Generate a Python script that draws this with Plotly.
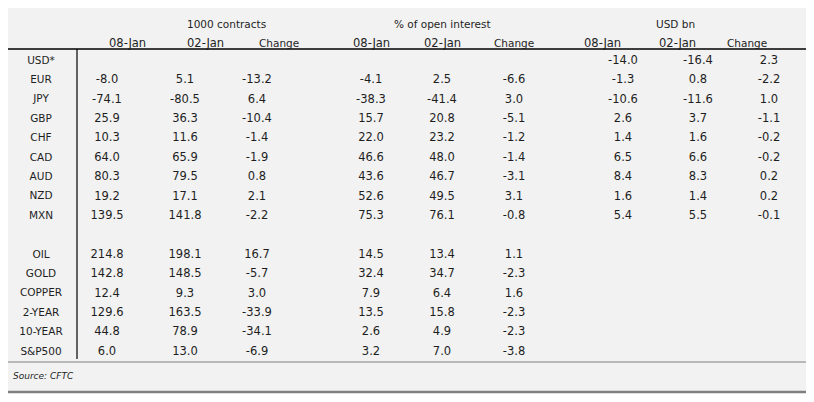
import plotly.graph_objects as go

# ---------------- data ----------------
rows = ["USD*", "EUR", "JPY", "GBP", "CHF", "CAD", "AUD", "NZD", "MXN", " ",
        "OIL", "GOLD", "COPPER", "2-YEAR", "10-YEAR", "S&P500"]

group_titles = ["1000 contracts", "% of open interest", "USD bn"]
sub_titles = ["08-Jan", "02-Jan", "Change"]

contracts_08jan = [None, -8.0, -74.1, 25.9, 10.3, 64.0, 80.3, 19.2, 139.5, None,
                   214.8, 142.8, 12.4, 129.6, 44.8, 6.0]
contracts_02jan = [None, 5.1, -80.5, 36.3, 11.6, 65.9, 79.5, 17.1, 141.8, None,
                   198.1, 148.5, 9.3, 163.5, 78.9, 13.0]
contracts_change = [None, -13.2, 6.4, -10.4, -1.4, -1.9, 0.8, 2.1, -2.2, None,
                    16.7, -5.7, 3.0, -33.9, -34.1, -6.9]

oi_08jan = [None, -4.1, -38.3, 15.7, 22.0, 46.6, 43.6, 52.6, 75.3, None,
            14.5, 32.4, 7.9, 13.5, 2.6, 3.2]
oi_02jan = [None, 2.5, -41.4, 20.8, 23.2, 48.0, 46.7, 49.5, 76.1, None,
            13.4, 34.7, 6.4, 15.8, 4.9, 7.0]
oi_change = [None, -6.6, 3.0, -5.1, -1.2, -1.4, -3.1, 3.1, -0.8, None,
             1.1, -2.3, 1.6, -2.3, -2.3, -3.8]

usd_08jan = [-14.0, -1.3, -10.6, 2.6, 1.4, 6.5, 8.4, 1.6, 5.4, None,
             None, None, None, None, None, None]
usd_02jan = [-16.4, 0.8, -11.6, 3.7, 1.6, 6.6, 8.3, 1.4, 5.5, None,
             None, None, None, None, None, None]
usd_change = [2.3, -2.2, 1.0, -1.1, -0.2, -0.2, 0.2, 0.2, -0.1, None,
              None, None, None, None, None, None]

source_text = "Source: CFTC"

# ---------------- layout constants ----------------
OFF = 8                      # page body margin
W, H = 814 - OFF, 402 - OFF  # figure size that fits in the window
FONT = "DejaVu Sans"
TXT = "#1e1e1e"
FS_LBL = 10.5
FS_NUM = 11.5
label_x = 41
col_x = [107, 185, 257, 371, 442, 514, 623, 698, 769]
group_x = [185, 442, 697]
row0_px, row_step = 61, 19.4


def px_y(p):
    return 1 - (p - OFF) / H


def px_x(p):
    return (p - OFF) / W


columns = [contracts_08jan, contracts_02jan, contracts_change,
           oi_08jan, oi_02jan, oi_change,
           usd_08jan, usd_02jan, usd_change]

fig = go.Figure()

# row labels
fig.add_trace(go.Scatter(
    x=[label_x - OFF] * len(rows), y=rows, mode="text",
    text=[r if r.strip() else "" for r in rows],
    textfont=dict(family=FONT, size=FS_LBL, color=TXT),
    hoverinfo="skip", showlegend=False))

for cx, vals in zip(col_x, columns):
    fig.add_trace(go.Scatter(
        x=[cx - OFF] * len(rows), y=rows, mode="text",
        text=["" if v is None else f"{v:.1f}" for v in vals],
        textfont=dict(family=FONT, size=FS_NUM, color=TXT),
        hoverinfo="skip", showlegend=False))

# y range so that row i sits at row0_px + i*row_step pixels (page coords)
top_idx = -(row0_px - OFF) / row_step
bot_idx = (H - (row0_px - OFF)) / row_step

shapes = [
    dict(type="rect", xref="paper", yref="paper", x0=px_x(8), x1=px_x(807),
         y0=px_y(393), y1=px_y(8), fillcolor="#f2f2f2", line=dict(width=0), layer="below"),
    dict(type="line", xref="paper", yref="paper", x0=0, x1=px_x(807),
         y0=px_y(49), y1=px_y(49), line=dict(color="#000000", width=1.5)),
    dict(type="line", xref="paper", yref="paper", x0=px_x(77), x1=px_x(77),
         y0=px_y(49), y1=px_y(359), line=dict(color="#000000", width=1.2)),
    dict(type="line", xref="paper", yref="paper", x0=0, x1=px_x(807),
         y0=px_y(362), y1=px_y(362), line=dict(color="#7f7f7f", width=1.2)),
    dict(type="line", xref="paper", yref="paper", x0=0, x1=px_x(807),
         y0=px_y(392), y1=px_y(392), line=dict(color="#7f7f7f", width=2.5)),
]

annotations = []
for gx, gt in zip(group_x, group_titles):
    annotations.append(dict(x=px_x(gx), y=px_y(24), xref="paper", yref="paper",
                            text=gt, showarrow=False, yanchor="middle",
                            font=dict(family=FONT, size=FS_LBL, color=TXT)))
for i, cx in enumerate(col_x):
    annotations.append(dict(x=px_x(cx), y=px_y(43), xref="paper", yref="paper",
                            text=sub_titles[i % 3], showarrow=False, yanchor="middle",
                            font=dict(family=FONT, size=FS_NUM if i % 3 < 2 else FS_LBL,
                                      color=TXT)))
annotations.append(dict(x=px_x(11), y=px_y(376), xref="paper", yref="paper",
                        text=f"<i>{source_text}</i>", showarrow=False,
                        xanchor="left", yanchor="middle",
                        font=dict(family=FONT, size=9, color=TXT)))

fig.update_layout(
    width=W, height=H,
    margin=dict(l=0, r=0, t=0, b=0),
    paper_bgcolor="white", plot_bgcolor="rgba(0,0,0,0)",
    xaxis=dict(range=[0, W], visible=False, fixedrange=True),
    yaxis=dict(type="category", categoryarray=rows, categoryorder="array",
               range=[bot_idx, top_idx], visible=False, fixedrange=True),
    shapes=shapes, annotations=annotations,
)

fig.write_html("out.html", config={"displayModeBar": False})
